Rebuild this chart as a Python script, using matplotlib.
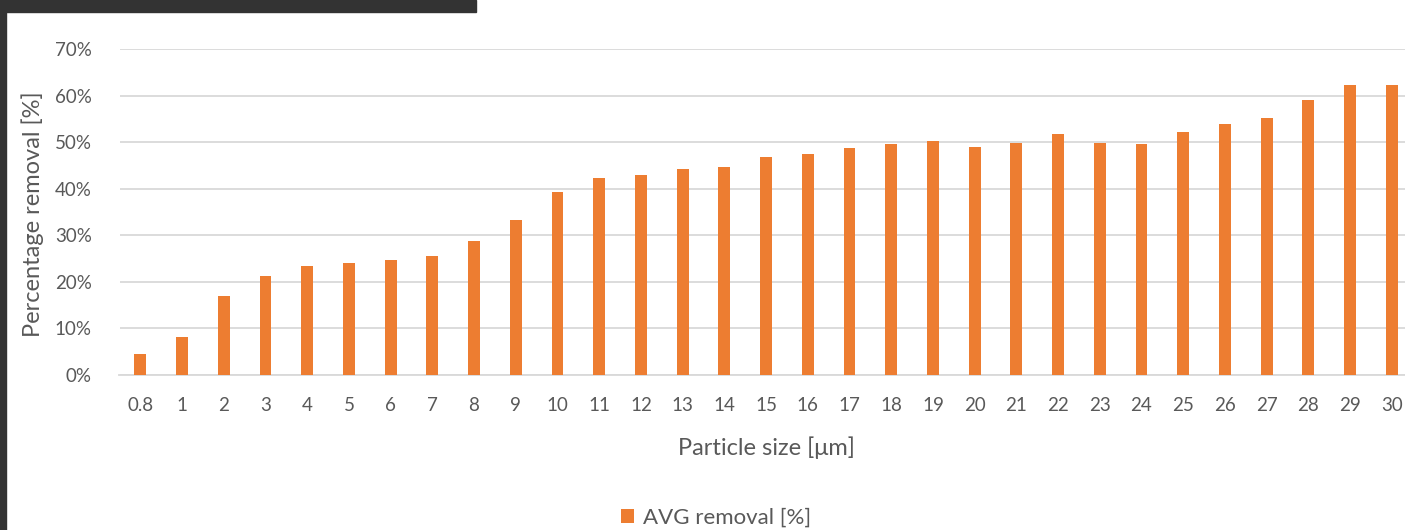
import matplotlib
matplotlib.use("Agg")
import matplotlib.pyplot as plt
from matplotlib.patches import Rectangle
from matplotlib.ticker import PercentFormatter

categories = ["0.8", "1", "2", "3", "4", "5", "6", "7", "8", "9", "10",
              "11", "12", "13", "14", "15", "16", "17", "18", "19", "20",
              "21", "22", "23", "24", "25", "26", "27", "28", "29", "30"]
removal = [4.5, 8.1, 16.9, 21.2, 23.5, 24.0, 24.8, 25.6, 28.8, 33.3, 39.4,
           42.4, 42.9, 44.2, 44.7, 46.9, 47.4, 48.7, 49.6, 50.3, 49.0,
           49.9, 51.7, 49.9, 49.5, 52.1, 53.9, 55.2, 59.1, 62.3, 62.3]
yticks = [0, 10, 20, 30, 40, 50, 60, 70]

plt.rcParams['font.family'] = ['Lato', 'DejaVu Sans']
text_color = "#595959"
grid_color = "#d9d9d9"
bar_color = "#ED7D31"

W, H = 1405, 530
fig = plt.figure(figsize=(W / 100, H / 100), dpi=100)
fig.patch.set_facecolor("white")

# dark frame pieces of the screenshot
fig.patches.append(Rectangle((0, 0), 6 / W, 1, transform=fig.transFigure,
                             color="#333333", zorder=10))
fig.patches.append(Rectangle((0, 1 - 12 / H), 476 / W, 12 / H,
                             transform=fig.transFigure, color="#333333", zorder=10))

left, right = 119.5, 1412.6
top, bottom = 49, 375
ax = fig.add_axes([left / W, 1 - bottom / H, (right - left) / W, (bottom - top) / H])

x = list(range(len(categories)))
ax.bar(x, removal, width=0.286, color=bar_color, zorder=3, label="AVG removal [%]")
ax.set_xlim(-0.5, len(categories) - 0.5)
ax.set_ylim(0, 70)
ax.set_yticks(yticks)
ax.yaxis.set_major_formatter(PercentFormatter(decimals=0))
ax.set_xticks(x)
ax.set_xticklabels(categories)
ax.grid(axis="y", color=grid_color, linewidth=1.3, zorder=0)
for s in ["top", "right", "left"]:
    ax.spines[s].set_visible(False)
ax.spines["bottom"].set_color(grid_color)
ax.spines["bottom"].set_linewidth(1.3)
ax.tick_params(axis="both", length=0, colors=text_color, labelsize=13.5)
ax.tick_params(axis="y", pad=20)
ax.tick_params(axis="x", pad=16)

fig.text(33 / W, 1 - 214 / H, "Percentage removal [%]", rotation=90,
         ha="center", va="center", color=text_color, fontsize=17)
fig.text(766 / W, 1 - 448 / H, "Particle size [μm]", ha="center", va="center",
         color=text_color, fontsize=17)

fig.legend(loc="center", bbox_to_anchor=(716 / W, 1 - 518 / H), frameon=False,
           fontsize=16, labelcolor=text_color, handlelength=0.6, handleheight=0.6,
           handletextpad=0.4)

fig.savefig("out.png", dpi=100, facecolor="white")
